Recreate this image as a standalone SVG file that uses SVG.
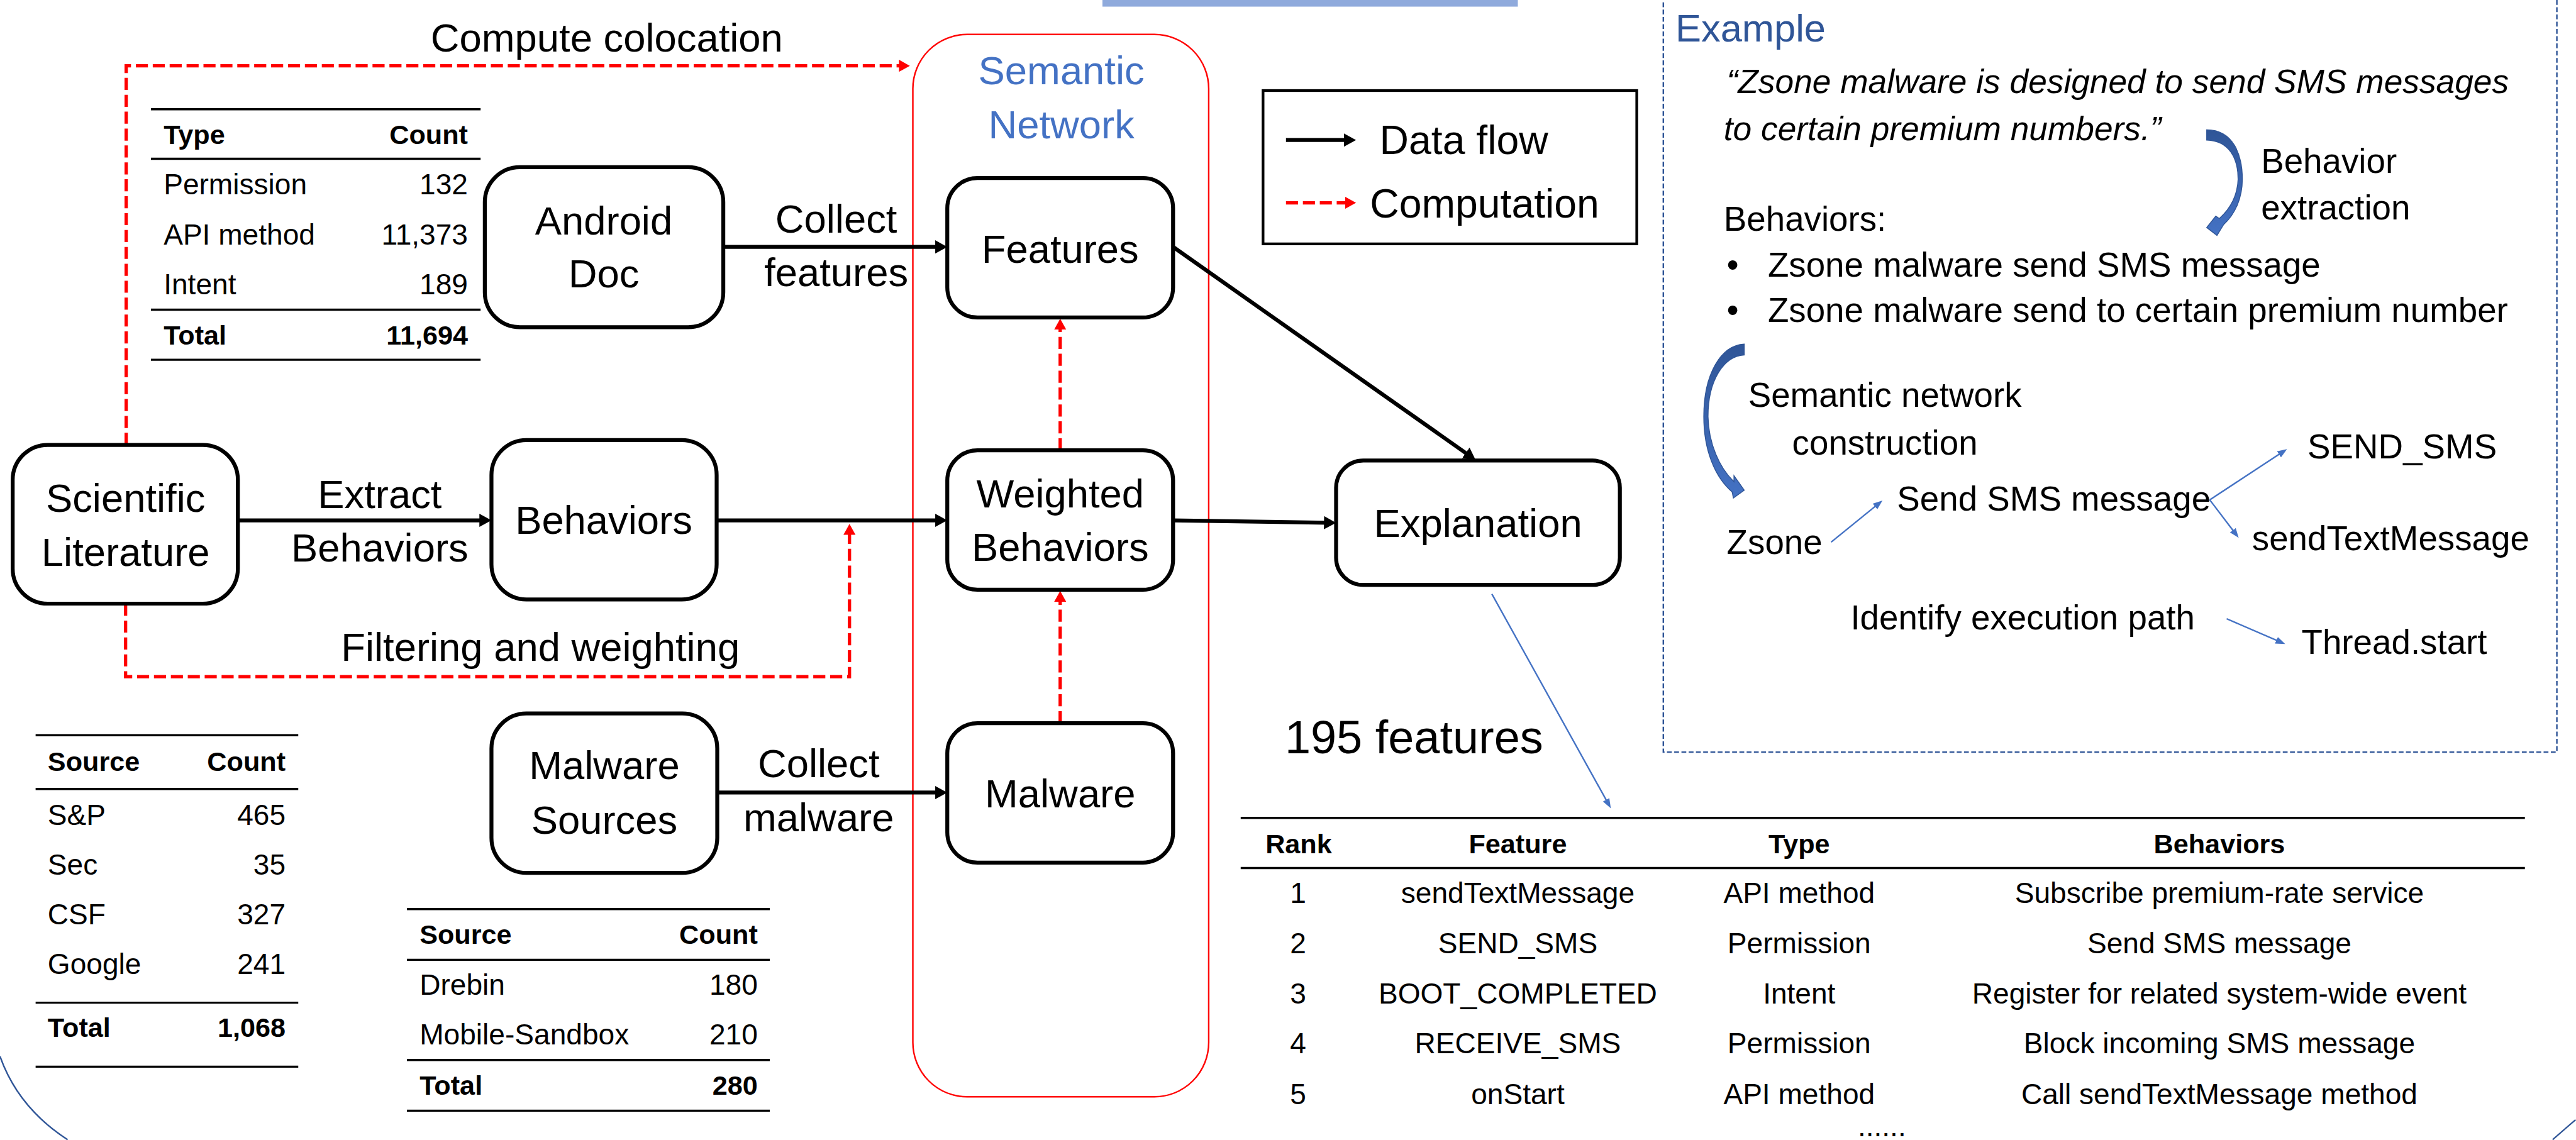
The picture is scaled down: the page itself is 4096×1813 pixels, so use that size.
<svg xmlns="http://www.w3.org/2000/svg" width="4096" height="1813" viewBox="0 0 4096 1813">
<defs>
<style>
text{font-family:"Liberation Sans",Arial,sans-serif;fill:#000}
.n{font-size:66px;text-anchor:middle}
.lb{font-size:66px;text-anchor:middle}
.t{font-size:48px}
.th{font-size:45px;font-weight:bold}
.r{text-anchor:end}
.c{text-anchor:middle}
.ex{font-size:57px}
.box{fill:#fff;stroke:#000;stroke-width:6.5}
.flow{stroke:#000;stroke-width:6.5;fill:none;marker-end:url(#ah)}
.comp{stroke:#f00;stroke-width:5.5;stroke-dasharray:20 8;fill:none;marker-end:url(#ar)}
.tl{stroke:#000;stroke-width:3.5}
.bl{stroke:#4472C4;stroke-width:2.5;fill:none;marker-end:url(#ab)}
.curv{fill:url(#cg);stroke:#2F5597;stroke-width:1.5}
</style>
<marker id="ah" markerUnits="userSpaceOnUse" markerWidth="22" markerHeight="24" refX="6" refY="12" orient="auto"><path d="M0,1 L20,12 L0,23 z" fill="#000"/></marker>
<marker id="ar" markerUnits="userSpaceOnUse" markerWidth="20" markerHeight="22" refX="4" refY="11" orient="auto"><path d="M0,1 L18,11 L0,21 z" fill="#f00"/></marker>
<marker id="ab" markerUnits="userSpaceOnUse" markerWidth="18" markerHeight="14" refX="4" refY="7" orient="auto"><path d="M0,1 L16,7 L0,13 z" fill="#4472C4"/></marker>
<linearGradient id="cg" x1="0" y1="0" x2="0" y2="1"><stop offset="0" stop-color="#2F5597"/><stop offset="1" stop-color="#4472C4"/></linearGradient>
</defs>
<rect width="4096" height="1813" fill="#fff"/>
<g transform="scale(0.96)">
<rect id="topbar" x="1826" y="-5" width="688" height="16" fill="#8FAADC"/>

<g id="semantic-network">
<rect x="1512" y="57" width="490" height="1760" rx="90" ry="90" fill="none" stroke="#f00" stroke-width="2.5"/>
<text x="1758" y="140" font-size="66" text-anchor="middle" style="fill:#4472C4">Semantic</text>
<text x="1758" y="229" font-size="66" text-anchor="middle" style="fill:#4472C4">Network</text>
</g>

<g id="connectors">
<line class="flow" x1="1198" y1="409" x2="1555" y2="409"/>
<line class="flow" x1="394" y1="862" x2="800" y2="862"/>
<line class="flow" x1="1187" y1="862" x2="1555" y2="862"/>
<line class="flow" x1="1188" y1="1313" x2="1555" y2="1313"/>
<line class="flow" x1="1943" y1="862" x2="2199" y2="866"/>
<line class="flow" x1="1943" y1="409" x2="2432.6" y2="753.9"/>
<path class="comp" d="M209,737 V109 H1493"/>
<path class="comp" d="M208,1000 V1121 H1407 V882"/>
<path class="comp" d="M1756,746 V542"/>
<path class="comp" d="M1756,1198 V993"/>
<line class="bl" x1="2471" y1="984" x2="2662.2" y2="1328.5" stroke-width="2"/>
<line class="bl" x1="3033" y1="898" x2="3108.7" y2="836.6"/>
<line class="bl" x1="3660" y1="828" x2="3778" y2="750.6"/>
<line class="bl" x1="3660" y1="828" x2="3700.7" y2="881.5"/>
<line class="bl" x1="3688" y1="1025" x2="3774" y2="1062.2"/>
</g>

<g id="edge-labels">
<text class="lb" x="1005" y="85">Compute colocation</text>
<text class="lb" x="1385" y="385">Collect</text>
<text class="lb" x="1385" y="474">features</text>
<text class="lb" x="629" y="842">Extract</text>
<text class="lb" x="629" y="930">Behaviors</text>
<text class="lb" x="895" y="1095">Filtering and weighting</text>
<text class="lb" x="1356" y="1287">Collect</text>
<text class="lb" x="1356" y="1377">malware</text>
</g>

<g id="node-scientific-literature">
<rect class="box" x="21" y="737" width="373" height="263" rx="58"/>
<text class="n" x="208" y="848">Scientific</text>
<text class="n" x="208" y="937">Literature</text>
</g>
<g id="node-android-doc">
<rect class="box" x="803" y="277" width="395" height="265" rx="58"/>
<text class="n" x="1000" y="389">Android</text>
<text class="n" x="1000" y="476">Doc</text>
</g>
<g id="node-behaviors">
<rect class="box" x="814" y="729" width="373" height="264" rx="58"/>
<text class="n" x="1000" y="884">Behaviors</text>
</g>
<g id="node-malware-sources">
<rect class="box" x="814" y="1182" width="374" height="264" rx="58"/>
<text class="n" x="1001" y="1291">Malware</text>
<text class="n" x="1001" y="1381">Sources</text>
</g>
<g id="node-features">
<rect class="box" x="1569" y="295" width="374" height="231" rx="50"/>
<text class="n" x="1756" y="435">Features</text>
</g>
<g id="node-weighted-behaviors">
<rect class="box" x="1569" y="746" width="374" height="231" rx="50"/>
<text class="n" x="1756" y="841">Weighted</text>
<text class="n" x="1756" y="929">Behaviors</text>
</g>
<g id="node-malware">
<rect class="box" x="1569" y="1198" width="374" height="231" rx="50"/>
<text class="n" x="1756" y="1338">Malware</text>
</g>
<g id="node-explanation">
<rect class="box" x="2213" y="763" width="470" height="206" rx="45"/>
<text class="n" x="2448" y="890">Explanation</text>
</g>

<g id="legend">
<rect x="2092" y="150" width="619" height="254" fill="none" stroke="#000" stroke-width="4.5"/>
<line class="flow" x1="2130" y1="232" x2="2232" y2="232"/>
<path class="comp" d="M2130,336 H2232"/>
<text x="2285" y="255" font-size="67">Data flow</text>
<text x="2269" y="360" font-size="67">Computation</text>
</g>

<g id="table-android">
<line class="tl" x1="250" y1="181" x2="796" y2="181"/>
<line class="tl" x1="250" y1="263" x2="796" y2="263"/>
<line class="tl" x1="250" y1="513" x2="796" y2="513"/>
<line class="tl" x1="250" y1="596" x2="796" y2="596"/>
<text class="th" x="271" y="239">Type</text><text class="th r" x="775" y="239">Count</text>
<text class="t" x="271" y="322">Permission</text><text class="t r" x="775" y="322">132</text>
<text class="t" x="271" y="405">API method</text><text class="t r" x="775" y="405">11,373</text>
<text class="t" x="271" y="488">Intent</text><text class="t r" x="775" y="488">189</text>
<text class="th" x="271" y="571">Total</text><text class="th r" x="775" y="571">11,694</text>
</g>

<g id="table-literature">
<line class="tl" x1="59" y1="1218" x2="494" y2="1218"/>
<line class="tl" x1="59" y1="1307" x2="494" y2="1307"/>
<line class="tl" x1="59" y1="1661" x2="494" y2="1661"/>
<line class="tl" x1="59" y1="1767" x2="494" y2="1767"/>
<text class="th" x="79" y="1277">Source</text><text class="th r" x="473" y="1277">Count</text>
<text class="t" x="79" y="1367">S&amp;P</text><text class="t r" x="473" y="1367">465</text>
<text class="t" x="79" y="1449">Sec</text><text class="t r" x="473" y="1449">35</text>
<text class="t" x="79" y="1531">CSF</text><text class="t r" x="473" y="1531">327</text>
<text class="t" x="79" y="1614">Google</text><text class="t r" x="473" y="1614">241</text>
<text class="th" x="79" y="1718">Total</text><text class="th r" x="473" y="1718">1,068</text>
</g>

<g id="table-malware">
<line class="tl" x1="674" y1="1506" x2="1275" y2="1506"/>
<line class="tl" x1="674" y1="1590" x2="1275" y2="1590"/>
<line class="tl" x1="674" y1="1756" x2="1275" y2="1756"/>
<line class="tl" x1="674" y1="1840" x2="1275" y2="1840"/>
<text class="th" x="695" y="1564">Source</text><text class="th r" x="1255" y="1564">Count</text>
<text class="t" x="695" y="1648">Drebin</text><text class="t r" x="1255" y="1648">180</text>
<text class="t" x="695" y="1730">Mobile-Sandbox</text><text class="t r" x="1255" y="1730">210</text>
<text class="th" x="695" y="1814">Total</text><text class="th r" x="1255" y="1814">280</text>
</g>

<g id="features-table">
<text x="2128" y="1248" font-size="77">195 features</text>
<line class="tl" x1="2055" y1="1355" x2="4182" y2="1355"/>
<line class="tl" x1="2055" y1="1438" x2="4182" y2="1438"/>
<text class="th c" x="2151" y="1414">Rank</text>
<text class="th c" x="2514" y="1414">Feature</text>
<text class="th c" x="2980" y="1414">Type</text>
<text class="th c" x="3676" y="1414">Behaviors</text>
<text class="t c" x="2150" y="1496">1</text><text class="t c" x="2514" y="1496">sendTextMessage</text><text class="t c" x="2980" y="1496">API method</text><text class="t c" x="3676" y="1496">Subscribe premium-rate service</text>
<text class="t c" x="2150" y="1579">2</text><text class="t c" x="2514" y="1579">SEND_SMS</text><text class="t c" x="2980" y="1579">Permission</text><text class="t c" x="3676" y="1579">Send SMS message</text>
<text class="t c" x="2150" y="1662">3</text><text class="t c" x="2514" y="1662">BOOT_COMPLETED</text><text class="t c" x="2980" y="1662">Intent</text><text class="t c" x="3676" y="1662">Register for related system-wide event</text>
<text class="t c" x="2150" y="1745">4</text><text class="t c" x="2514" y="1745">RECEIVE_SMS</text><text class="t c" x="2980" y="1745">Permission</text><text class="t c" x="3676" y="1745">Block incoming SMS message</text>
<text class="t c" x="2150" y="1829">5</text><text class="t c" x="2514" y="1829">onStart</text><text class="t c" x="2980" y="1829">API method</text><text class="t c" x="3676" y="1829">Call sendTextMessage method</text>
<text class="t c" x="3117" y="1882">......</text>
</g>

<g id="example">
<rect x="2755" y="-20" width="1480" height="1266" fill="none" stroke="#2F5597" stroke-width="2.5" stroke-dasharray="8 4"/>
<text x="2775" y="69" font-size="64" style="fill:#2F5597">Example</text>
<text x="2860" y="154" font-style="italic" font-size="55.5">“Zsone malware is designed to send SMS messages</text>
<text x="2855" y="232" font-style="italic" font-size="55.5">to certain premium numbers.”</text>
<path class="curv" d="M3655,215 C3700,215 3714,258 3714,297 C3714,328 3702,355 3683,372 L3672,390 L3655,377 L3670,358 L3676,362 C3695,345 3706,322 3707,297 C3707,262 3692,233 3655,232 Z"/>
<text class="ex" x="3745" y="286">Behavior</text>
<text class="ex" x="3745" y="364">extraction</text>
<text class="ex" x="2855" y="382">Behaviors:</text>
<text class="ex" x="2860" y="458">•</text>
<text class="ex" x="2928" y="458">Zsone malware send SMS message</text>
<text class="ex" x="2860" y="533">•</text>
<text class="ex" x="2928" y="533">Zsone malware send to certain premium number</text>
<path class="curv" d="M2889,570 C2850,572 2822,620 2822,690 C2822,745 2840,790 2869,815 L2871,825 L2889,812 L2872,788 L2872,798 C2848,775 2830,735 2829,690 C2829,630 2855,590 2889,588 Z"/>
<text class="ex" x="3122" y="674" text-anchor="middle">Semantic network</text>
<text class="ex" x="3122" y="753" text-anchor="middle">construction</text>
<text class="ex" x="2860" y="918">Zsone</text>
<text class="ex" x="3142" y="846">Send SMS message</text>
<text class="ex" x="3822" y="759">SEND_SMS</text>
<text class="ex" x="3730" y="911">sendTextMessage</text>
<text class="ex" x="3065" y="1043">Identify execution path</text>
<text class="ex" x="3812" y="1083">Thread.start</text>
</g>

<g id="decor-arcs">
<path d="M0,1750 Q30,1835 112,1888" fill="none" stroke="#2F5597" stroke-width="2.5"/>
<path d="M4266,1855 Q4245,1873 4228,1888" fill="none" stroke="#2F5597" stroke-width="2.5"/>
</g>
</g>
</svg>
